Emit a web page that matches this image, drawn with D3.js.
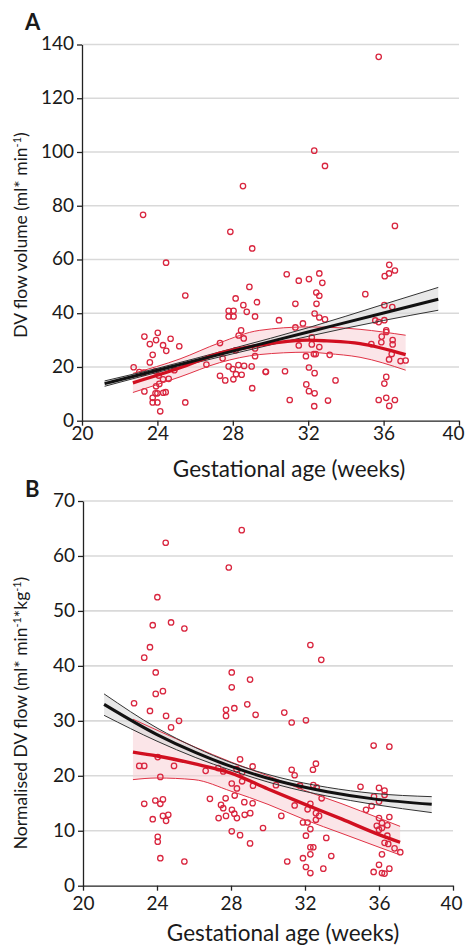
<!DOCTYPE html>
<html><head><meta charset="utf-8">
<script src="https://cdn.jsdelivr.net/npm/d3@7"></script>
<style>
html,body{margin:0;padding:0;background:#fff;}
svg{display:block;}
text{font-family:Lato,"Open Sans",sans-serif;fill:#1a1a1a;}
</style></head>
<body><svg id="chart" width="467" height="946"></svg>
<script>
// ---------- Panel A: DV flow volume ----------
const weeksA = [35.74,32.32,32.89,28.54,23.24,36.6,27.87,29.03,24.46,36.3,36.6,36.29,36.06,30.86,32.59,32.04,31.5,32.75,28.88,32.43,35.03,25.48,32.59,28.15,29.28,31.32,32.44,28.56,36.04,36.46,27.78,28.04,27.78,28.04,28.74,29.18,32.34,32.59,32.89,30.45,31.72,35.56,35.74,36.04,31.32,36.14,36.14,35.9,32.19,36.48,36.48,35.35,35.88,31.5,32.19,32.59,31.88,32.3,32.4,33.14,36.43,36.29,36.9,37.17,29.76,30.77,32.04,32.34,33.45,31.9,32.04,32.34,31.02,33.05,32.32,36.14,36.04,35.74,36.14,36.6,36.3,
24.02,23.31,23.93,24.7,23.6,24.3,24.47,25.16,23.75,23.6,22.74,23.04,23.27,23.9,24.07,24.3,24.6,24.9,23.93,24.1,23.31,23.9,24.0,24.44,24.31,23.75,23.75,24.0,25.48,24.15,
27.32,26.6,27.46,27.32,27.6,27.78,28.03,28.17,28.47,28.0,28.3,28.6,29.0,29.03,29.74,28.31,28.44,28.58,28.15,29.18,29.18];
const flowA = [135.4,100.5,94.8,87.3,76.6,72.5,70.3,64.1,58.8,58.0,55.9,54.8,53.8,54.5,54.8,52.7,52.1,51.3,49.8,47.7,47.1,46.6,46.5,45.5,44.1,43.5,43.5,43.0,43.0,42.3,40.9,40.9,38.8,38.8,40.5,38.8,39.9,38.4,37.7,37.4,36.2,37.3,36.7,37.4,34.7,33.6,33.0,31.3,31.0,30.0,28.4,28.5,29.2,28.0,28.4,27.4,24.0,24.8,24.8,24.5,24.8,22.8,22.2,22.4,18.2,18.4,19.8,17.7,15.0,13.5,11.0,10.2,7.7,7.5,5.4,16.3,13.8,7.7,8.5,7.7,5.5,
32.7,31.3,30.0,30.5,28.5,28.1,26.0,27.7,24.5,21.7,19.9,18.1,17.9,18.4,16.8,15.4,15.6,18.8,12.8,13.7,10.9,10.2,10.2,10.6,10.4,8.5,6.8,6.8,6.8,3.5,
28.9,20.9,23.2,16.7,15.0,20.2,15.4,17.3,17.1,19.2,20.7,20.4,20.2,12.1,18.2,31.7,33.6,30.6,26.2,24.0,26.9];

// fitted curves, panel A
const fitWeeksBlackA = [21.2,24,28,32,36,38.9];
const fitBlackA      = [13.8,18.8,25.9,33.0,40.1,45.2];
const fitBlackHiA    = [14.8,19.5,26.9,34.6,43.3,49.6];
const fitBlackLoA    = [12.8,18.0,24.9,31.4,37.3,41.1];
const fitWeeksRedA = [22.7,25.2,27.3,29.4,32,33,34.75,37.17];
const fitRedA      = [14.1,19.7,25.1,28.1,30.0,29.7,28.7,24.6];
const fitRedHiA    = [17.6,23.0,29.0,33.6,34.9,34.8,34.0,31.8];
const fitRedLoA    = [10.5,16.3,21.6,24.6,25.5,25.0,23.6,18.8];

// ---------- Panel B: normalised DV flow ----------
const weeksB = [28.58,24.47,27.88,24.02,23.77,24.76,25.48,23.62,23.31,32.29,32.88,
23.93,24.32,23.93,22.76,23.62,24.49,25.19,24.76,24.04,23.04,23.31,24.92,24.18,23.31,23.91,24.32,24.18,23.77,24.32,24.61,24.49,24.04,24.04,24.18,25.48,
28.04,28.04,29.03,27.73,27.73,28.18,28.88,29.33,28.49,29.17,27.31,27.58,26.63,28.3,28.6,28.04,28.32,28.2,28.6,29.19,26.86,27.71,27.46,27.58,28.72,29.17,27.33,27.73,28.05,28.18,28.32,28.74,29.04,29.73,28.04,28.49,29.03,30.43,
30.88,31.28,32.05,35.71,36.56,32.59,32.43,31.28,31.44,31.73,32.45,32.63,32.9,31.44,32.29,32.14,32.59,32.76,32.59,31.89,32.14,32.29,30.72,33.15,32.05,32.29,32.45,32.29,31.89,33.42,31.04,32.05,32.99,32.29,
35.0,36.0,36.3,36.3,35.73,36.0,35.6,35.3,36.0,36.56,36.16,35.88,36.16,36.45,36.0,36.45,36.3,36.5,36.84,37.15,36.16,36.0,36.56,35.71,36.16,36.3];
const normB = [64.7,62.4,57.9,52.5,47.4,47.9,46.8,43.4,41.5,43.8,41.1,
38.8,35.4,34.9,33.2,31.8,30.9,30.0,28.8,23.4,21.8,21.8,21.8,19.8,14.9,15.5,15.7,14.9,12.1,12.7,12.9,11.8,8.9,8.0,5.0,4.4,
38.8,36.1,37.5,32.0,30.9,32.3,33.0,31.1,23.0,21.7,21.4,20.8,20.9,21.2,20.6,18.6,17.7,16.4,19.0,18.2,15.8,15.9,14.7,14.1,15.2,15.0,12.3,12.7,13.8,13.1,12.3,12.9,13.2,10.5,9.9,9.2,7.7,18.3,
31.5,29.7,30.1,25.5,25.3,22.2,21.1,21.1,20.1,18.2,18.3,17.9,15.9,14.6,14.9,13.9,13.2,12.7,12.0,11.5,11.5,10.3,12.7,8.7,9.1,7.0,7.0,5.7,5.0,5.4,4.4,3.4,3.1,2.3,
18.0,17.8,17.3,16.5,16.2,15.3,14.5,13.8,12.3,12.5,11.4,10.9,10.5,11.0,10.2,9.1,7.8,7.6,6.8,6.1,5.7,3.8,3.1,2.5,2.3,2.2];

const fitWeeksBlackB = [21.14,24,26.1,28,30.6,33.2,35.7,38.85];
const fitBlackB      = [33.0,27.5,24.2,21.7,19.0,17.1,15.8,14.8];
const fitBlackHiB    = [34.9,28.7,25.1,22.4,19.7,17.9,16.8,16.2];
const fitBlackLoB    = [31.0,26.3,23.3,21.0,18.3,16.3,14.8,13.3];
const fitWeeksRedB = [22.7,24,26,28,30,32,34,36,37.14];
const fitRedB      = [24.3,23.6,22.2,20.5,17.6,14.8,12.1,9.3,7.9];
const fitRedHiB    = [30.3,28.3,25.3,22.5,20.0,17.3,14.9,12.3,10.8];
const fitRedLoB    = [19.3,19.6,19.3,17.2,14.8,12.0,9.5,7.0,5.6];

const xTicks = [20,24,28,32,36,40];
const yTicksA = [0,20,40,60,80,100,120,140];
const yTicksB = [0,10,20,30,40,50,60,70];

const svg = d3.select("#chart");
const RED_PT = "#d9263f", RED_LINE = "#d10f20";

function panel(cfg){
  const g = svg.append("g");
  const x = d3.scaleLinear().domain([20,40]).range(cfg.xr);
  const y = d3.scaleLinear().domain(cfg.yd).range(cfg.yr);
  // grid
  g.selectAll(".grid").data(cfg.yTicks.filter(d=>d>0)).join("line")
    .attr("x1",cfg.xr[0]).attr("x2",cfg.gridEnd)
    .attr("y1",d=>y(d)).attr("y2",d=>y(d))
    .attr("stroke","#d9d9d9").attr("stroke-width",1.6);
  const line = (ws,vs)=>d3.line().curve(d3.curveMonotoneX)(ws.map((w,i)=>[x(w),y(vs[i])]));
  const area = (ws,lo,hi)=>d3.area().curve(d3.curveMonotoneX)
      .x((d,i)=>x(ws[i])).y0((d,i)=>y(lo[i])).y1((d,i)=>y(hi[i]))(ws);
  // bands
  g.append("path").attr("d",area(cfg.rw,cfg.rlo,cfg.rhi)).attr("fill","#f7cfd5").attr("opacity",0.55);
  g.append("path").attr("d",area(cfg.bw,cfg.blo,cfg.bhi)).attr("fill","#d9d9d9").attr("opacity",0.6);
  // points
  g.selectAll(".pt").data(cfg.wk).join("circle")
    .attr("cx",d=>x(d)).attr("cy",(d,i)=>y(cfg.val[i])).attr("r",2.7)
    .attr("fill","none").attr("stroke",RED_PT).attr("stroke-width",1.3);
  // CI lines
  [cfg.rlo,cfg.rhi].forEach(a=>g.append("path").attr("d",line(cfg.rw,a)).attr("fill","none").attr("stroke","#e03346").attr("stroke-width",1));
  [cfg.blo,cfg.bhi].forEach(a=>g.append("path").attr("d",line(cfg.bw,a)).attr("fill","none").attr("stroke","#333").attr("stroke-width",1));
  g.append("path").attr("d",line(cfg.rw,cfg.rfit)).attr("fill","none").attr("stroke",RED_LINE).attr("stroke-width",3.4);
  g.append("path").attr("d",line(cfg.bw,cfg.bfit)).attr("fill","none").attr("stroke","#111").attr("stroke-width",3);
  // axes
  const xa = g.append("g").attr("transform",`translate(0,${cfg.yr[0]})`)
    .call(d3.axisBottom(x).tickValues(xTicks).tickSize(5).tickPadding(cfg.xpad).tickSizeOuter(0));
  const ya = g.append("g").attr("transform",`translate(${cfg.xr[0]},0)`)
    .call(d3.axisLeft(y).tickValues(cfg.yTicks).tickSize(5).tickPadding(3).tickSizeOuter(0));
  [xa,ya].forEach(a=>{
    a.select(".domain").attr("stroke","#222").attr("stroke-width",1.3);
    a.selectAll(".tick line").attr("stroke","#222").attr("stroke-width",1.3);
    a.selectAll("text").attr("font-size",19).attr("font-family","Lato, sans-serif").attr("fill","#1a1a1a");
  });
  ya.selectAll("text").attr("dy","0.28em");
  // keep last x label inside the frame
  xa.selectAll(".tick text").filter(d=>d===40).attr("dx",cfg.lastDx);
  // panel letter
  svg.append("text").attr("x",25).attr("y",cfg.letterY).attr("font-size",22).attr("font-weight","bold").text(cfg.letter);
  // x label
  svg.append("text").attr("x",cfg.xlabX).attr("y",cfg.xlabY).attr("text-anchor","middle").attr("font-size",22.5).text("Gestational age (weeks)");
  // y label
  const yl = svg.append("text").attr("transform",`translate(${cfg.ylabX},${cfg.ylabY}) rotate(-90)`)
    .attr("text-anchor","middle").attr("font-size",cfg.ylabSize);
  cfg.ylab.forEach(p=>{
    const t = yl.append("tspan").text(p[0]);
    if(p[1]){ t.attr("font-size",cfg.ylabSize*0.62).attr("dy",-6); }
    else if(p[2]){ t.attr("dy",6); }
  });
}

panel({xr:[82,459], yr:[420.7,44.5], yd:[0,140], gridEnd:459, yTicks:yTicksA, xpad:1, lastDx:-6,
  wk:weeksA, val:flowA,
  bw:fitWeeksBlackA, bfit:fitBlackA, bhi:fitBlackHiA, blo:fitBlackLoA,
  rw:fitWeeksRedA, rfit:fitRedA, rhi:fitRedHiA, rlo:fitRedLoA,
  letter:"A", letterY:30, xlabX:289, xlabY:477, ylabX:27, ylabY:235, ylabSize:17.5,
  ylab:[["DV flow volume (ml* min"],["-1",true],[")",false,true]]});

panel({xr:[83,453], yr:[885.7,501], yd:[0,70], gridEnd:453, yTicks:yTicksB, xpad:6, lastDx:-2,
  wk:weeksB, val:normB,
  bw:fitWeeksBlackB, bfit:fitBlackB, bhi:fitBlackHiB, blo:fitBlackLoB,
  rw:fitWeeksRedB, rfit:fitRedB, rhi:fitRedHiB, rlo:fitRedLoB,
  letter:"B", letterY:497, xlabX:283, xlabY:941, ylabX:27, ylabY:713, ylabSize:17.5,
  ylab:[["Normalised DV flow (ml* min"],["-1",true],["*kg",false,true],["-1",true],[")",false,true]]});
</script></body></html>
